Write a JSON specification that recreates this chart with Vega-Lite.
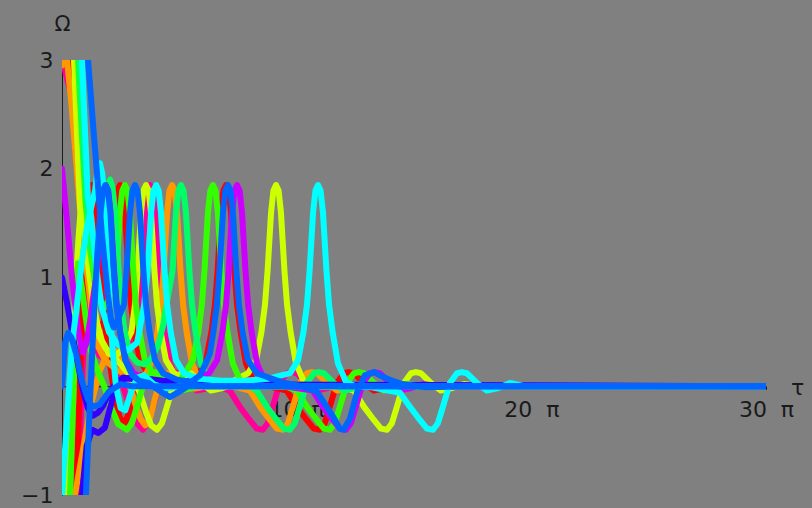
{
  "$schema": "https://vega.github.io/schema/vega-lite/v6.json",
  "width": 704,
  "height": 435,
  "autosize": {"type": "none"},
  "padding": {"left": 62, "top": 60, "right": 46, "bottom": 13},
  "background": "#808080",
  "config": {"view": {"stroke": null}, "font": "DejaVu Sans"},
  "data": {"values": [
    {"id": "a_pinkA", "hue": "pink", "x": [0,0.43,0.7,0.95,1.15,1.35,1.6,1.9,2.17,2.35,2.6,2.9,3.15,3.45,3.65,3.87,4.17,4.47,4.68,4.9,5.3,5.75,6.2,6.7,7.3,30], "y": [3.02,2.64,2.0,1.2,0.65,0.4,0.28,0.25,0.26,0.18,0.0,-0.2,-0.33,-0.4,-0.34,-0.19,0.03,0.12,0.13,0.12,0.03,-0.04,-0.02,0.02,0.0,0.0]},
    {"id": "b_pinkB", "hue": "pink", "x": [0,0.68,0.85,1.0,1.15,1.3,1.4,1.51,1.61,1.76,1.87,2.02,2.25,2.5,2.8,3.13,3.28,3.39,3.54,3.64,3.75,3.86,3.96,4.11,4.22,4.37,4.6,4.94,5.4,6.5,7.15,7.58,8.0,8.3,8.56,8.77,8.98,9.28,9.58,9.79,10.0,10.43,10.86,11.28,11.84,12.5,30], "y": [-4.0,-1.0,0.0,0.8,1.4,1.75,1.85,1.8,1.6,1.06,0.75,0.5,0.3,0.25,0.3,0.5,0.75,1.06,1.6,1.8,1.85,1.8,1.6,1.06,0.75,0.5,0.21,0.04,0.01,0.01,-0.04,-0.19,-0.31,-0.39,-0.4,-0.34,-0.19,0.03,0.12,0.13,0.12,0.03,-0.04,-0.02,0.02,0.0,0.0]},
    {"id": "c_redA", "hue": "red", "x": [0,0.34,0.6,0.9,1.2,1.49,1.75,2.0,2.11,2.26,2.36,2.47,2.58,2.68,2.83,2.94,3.09,3.32,3.66,4.2,5.0,5.8,6.14,6.37,6.52,6.63,6.78,6.88,6.99,7.1,7.2,7.35,7.46,7.61,7.84,8.18,8.6,9.58,10.01,10.43,10.73,10.99,11.2,11.41,11.71,12.01,12.22,12.43,12.86,13.29,13.71,14.27,15,30], "y": [4.2,3.0,2.1,1.3,0.8,0.51,0.58,0.75,1.06,1.6,1.8,1.85,1.8,1.6,1.06,0.75,0.5,0.24,0.12,0.06,0.04,0.1,0.24,0.5,0.75,1.06,1.6,1.8,1.85,1.8,1.6,1.06,0.75,0.5,0.21,0.04,0.01,-0.04,-0.19,-0.31,-0.39,-0.4,-0.34,-0.19,0.03,0.12,0.13,0.12,0.03,-0.04,-0.02,0.02,0.0,0.0]},
    {"id": "d_redB", "hue": "red", "x": [0,0.6,0.76,0.92,1.04,1.14,1.25,1.36,1.46,1.61,1.72,1.87,2.05,2.25,2.45,2.65,2.85,3.05,3.35,3.6,3.9,4.3,4.8,30], "y": [-4.0,-1.0,0.0,0.9,1.45,1.8,1.85,1.8,1.6,1.06,0.75,0.5,0.2,-0.1,-0.28,-0.35,-0.25,-0.05,0.1,0.12,0.05,-0.03,0.0,0.0]},
    {"id": "e_orangeA", "hue": "orange", "x": [0,0.2,0.4,0.7,0.9,1.07,1.2,1.41,1.83,2.34,2.8,3.32,3.6,3.84,4.07,4.22,4.33,4.48,4.58,4.69,4.8,4.9,5.05,5.16,5.31,5.54,5.88,6.3,7.3,8.01,8.44,8.86,9.16,9.42,9.63,9.84,10.14,10.44,10.65,10.86,11.29,11.72,12.14,12.7,13.4,30], "y": [2.95,3.02,2.6,1.8,1.3,1.04,0.8,0.42,0.24,0.15,0.1,0.08,0.12,0.24,0.5,0.75,1.06,1.6,1.8,1.85,1.8,1.6,1.06,0.75,0.5,0.21,0.04,0.01,0.0,-0.04,-0.19,-0.31,-0.39,-0.4,-0.34,-0.19,0.03,0.12,0.13,0.12,0.03,-0.04,-0.02,0.02,0.0,0.0]},
    {"id": "f_orangeB", "hue": "orange", "x": [0,0.55,1.0,1.28,1.62,1.95,2.25,2.55,2.85,3.1,3.35,3.55,3.75,3.95,4.2,4.5,4.8,5.2,5.7,6.2,30], "y": [-1.65,-1.0,-0.45,-0.13,0.15,0.3,0.33,0.25,0.05,-0.15,-0.3,-0.36,-0.3,-0.12,0.06,0.12,0.08,-0.02,-0.02,0.0,0.0]},
    {"id": "g_yellowA", "hue": "yellow", "x": [0,0.51,0.77,0.95,1.15,1.4,1.7,2.0,2.3,2.6,2.96,3.11,3.22,3.37,3.47,3.58,3.69,3.79,3.94,4.05,4.2,4.43,4.77,5.3,6.3,7.3,7.93,8.27,8.5,8.65,8.76,8.91,9.01,9.12,9.23,9.33,9.48,9.59,9.74,9.97,10.31,10.8,12.0,12.44,12.87,13.29,13.59,13.85,14.06,14.27,14.57,14.87,15.08,15.29,15.72,16.15,16.57,17.13,17.8,30], "y": [4.8,3.0,1.64,1.45,1.05,0.65,0.42,0.3,0.28,0.35,0.5,0.75,1.06,1.6,1.8,1.85,1.8,1.6,1.06,0.75,0.5,0.24,0.12,0.06,0.04,0.05,0.12,0.24,0.5,0.75,1.06,1.6,1.8,1.85,1.8,1.6,1.06,0.75,0.5,0.21,0.04,0.0,-0.01,-0.04,-0.19,-0.31,-0.39,-0.4,-0.34,-0.19,0.03,0.12,0.13,0.12,0.03,-0.04,-0.02,0.02,0.0,0.0]},
    {"id": "h_yellowB", "hue": "yellow", "x": [0,0.21,0.4,0.55,0.7,0.82,0.92,1.02,1.12,1.25,1.4,1.6,1.85,2.1,2.5,2.9,3.3,3.6,3.8,4.05,4.26,4.47,4.77,5.07,5.28,5.49,5.92,6.35,6.8,7.3,8.0,30], "y": [-1.8,-1.0,0.1,0.8,1.35,1.7,1.82,1.75,1.5,1.05,0.7,0.45,0.35,0.3,0.2,0.1,-0.05,-0.25,-0.36,-0.4,-0.34,-0.19,0.03,0.12,0.13,0.12,0.03,-0.04,-0.02,0.02,0.0,0.0]},
    {"id": "i_greenA", "hue": "green", "x": [0,0.68,0.85,1.0,1.2,1.4,1.6,1.8,2.0,2.17,2.32,2.47,2.57,2.68,2.79,2.89,3.04,3.15,3.3,3.53,3.87,4.4,5.0,5.24,5.58,5.81,5.96,6.07,6.22,6.32,6.43,6.54,6.64,6.79,6.9,7.05,7.28,7.62,8.1,9.5,10.01,10.44,10.86,11.16,11.42,11.63,11.84,12.14,12.44,12.65,12.86,13.29,13.72,14.14,14.7,15.4,30], "y": [5.5,3.0,2.3,1.7,1.25,0.95,0.78,0.72,0.8,0.95,1.06,1.6,1.8,1.85,1.8,1.6,1.06,0.75,0.5,0.24,0.12,0.06,0.05,0.12,0.24,0.5,0.75,1.06,1.6,1.8,1.85,1.8,1.6,1.06,0.75,0.5,0.21,0.04,0.01,0.0,-0.04,-0.19,-0.31,-0.39,-0.4,-0.34,-0.19,0.03,0.12,0.13,0.12,0.03,-0.04,-0.02,0.02,0.0,0.0]},
    {"id": "j_greenB", "hue": "green", "x": [0,0.34,0.5,0.6,0.68,0.85,1.0,1.2,1.5,1.8,2.1,2.4,2.77,2.98,3.19,3.49,3.79,4.0,4.21,4.64,5.07,5.5,6.1,6.8,30], "y": [-2.5,-1.0,0.0,0.75,1.13,0.9,0.65,0.35,0.15,0.0,-0.2,-0.35,-0.4,-0.34,-0.19,0.03,0.12,0.13,0.12,0.03,-0.04,-0.02,0.02,0.0,0.0]},
    {"id": "k_springA", "hue": "spring", "x": [0,0.72,0.9,1.05,1.2,1.35,1.5,1.7,1.85,1.95,2.05,2.16,2.26,2.41,2.52,2.67,2.9,3.2,3.5,3.8,4.1,4.3,4.45,4.71,4.86,4.96,5.07,5.18,5.28,5.43,5.54,5.69,5.92,6.26,6.8,8.0,8.3,8.73,9.15,9.45,9.71,9.92,10.13,10.43,10.73,10.94,11.15,11.58,12.01,12.43,12.99,13.6,30], "y": [5.5,3.0,2.2,1.7,1.35,1.2,1.25,1.45,1.7,1.85,1.9,1.82,1.6,1.06,0.75,0.5,0.3,0.22,0.2,0.25,0.38,0.55,0.75,1.06,1.6,1.8,1.85,1.8,1.6,1.06,0.75,0.5,0.21,0.04,0.01,0.0,-0.04,-0.19,-0.31,-0.39,-0.4,-0.34,-0.19,0.03,0.12,0.13,0.12,0.03,-0.04,-0.02,0.02,0.0,0.0]},
    {"id": "l_purpleA", "hue": "purple", "x": [0,0.2,0.45,0.7,0.89,1.05,1.2,1.35,1.5,1.65,1.75,1.86,1.97,2.07,2.22,2.33,2.48,2.71,3.05,3.6,4.5,5.5,6.27,6.61,6.84,6.99,7.1,7.25,7.35,7.46,7.57,7.67,7.82,7.93,8.08,8.31,8.65,9.2,10.69,11.12,11.54,11.84,12.1,12.31,12.52,12.82,13.12,13.33,13.54,13.97,14.4,14.82,15.38,16.0,30], "y": [2.0,1.55,0.95,0.5,0.31,0.4,0.6,0.85,1.06,1.6,1.8,1.85,1.8,1.6,1.06,0.75,0.5,0.24,0.12,0.06,0.04,0.05,0.12,0.24,0.5,0.75,1.06,1.6,1.8,1.85,1.8,1.6,1.06,0.75,0.5,0.21,0.04,0.01,-0.04,-0.19,-0.31,-0.39,-0.4,-0.34,-0.19,0.03,0.12,0.13,0.12,0.03,-0.04,-0.02,0.02,0.0,0.0]},
    {"id": "m_darkblueB", "hue": "darkblue", "x": [0,0.85,1.05,1.28,1.55,1.83,2.05,2.3,2.6,3.2,4.0,30], "y": [-5.0,-1.0,-0.55,-0.4,-0.43,-0.38,-0.2,0.0,0.08,0.06,0.02,0.0]},
    {"id": "n_darkblueA", "hue": "darkblue", "x": [0,0.2,0.47,0.7,0.9,1.1,1.32,1.55,1.75,1.92,2.2,2.47,3.03,3.6,4.3,5.5,7.0,30], "y": [1.0,0.78,0.45,0.18,-0.04,-0.2,-0.27,-0.24,-0.18,-0.1,0.0,0.06,0.08,0.07,0.05,0.03,0.01,0.0]},
    {"id": "o_cyanB", "hue": "cyan", "x": [0,0.2,0.43,0.64,0.85,1.05,1.25,1.41,1.52,1.62,1.72,1.83,1.95,2.05,2.15,2.3,2.5,2.7,2.95,3.2,3.5,3.9,4.4,5.0,30], "y": [-1.02,-0.35,0.39,0.75,1.15,1.45,1.65,1.8,2.0,2.05,1.95,1.59,1.1,0.7,0.35,0.0,-0.2,-0.22,-0.05,0.08,0.1,0.02,-0.02,0.0,0.0]},
    {"id": "p_cyanA", "hue": "cyan", "x": [0,0.85,1.1,1.25,1.45,1.7,2.0,2.4,2.8,3.2,3.5,3.65,3.8,3.9,4.01,4.12,4.22,4.37,4.48,4.63,4.86,5.2,5.8,6.8,7.8,8.8,9.72,10.06,10.29,10.44,10.55,10.7,10.8,10.91,11.02,11.12,11.27,11.38,11.53,11.76,12.1,12.5,13.2,14.4,14.83,15.25,15.55,15.81,16.02,16.23,16.53,16.83,17.04,17.25,17.68,18.11,18.53,19.09,19.7,30], "y": [5.5,3.0,1.75,1.55,1.1,0.72,0.5,0.38,0.33,0.4,0.75,1.06,1.6,1.8,1.85,1.8,1.6,1.06,0.75,0.5,0.24,0.12,0.07,0.05,0.05,0.07,0.12,0.24,0.5,0.75,1.06,1.6,1.8,1.85,1.8,1.6,1.06,0.75,0.5,0.21,0.04,0.0,-0.01,-0.06,-0.19,-0.31,-0.39,-0.4,-0.34,-0.19,0.03,0.12,0.13,0.12,0.03,-0.04,-0.02,0.03,0.0,0.0]},
    {"id": "q_azureC", "hue": "azure", "x": [0,0.13,0.26,0.4,0.6,0.85,1.1,1.3,1.6,2.0,2.5,3.0,30], "y": [0.0,0.4,0.49,0.45,0.3,0.05,-0.12,-0.19,-0.17,-0.05,0.02,0.0,0.0]},
    {"id": "r_azureB", "hue": "azure", "x": [0,1.02,1.2,1.35,1.5,1.62,1.75,1.85,1.96,2.06,2.21,2.32,2.47,2.7,3.0,3.3,3.7,4.2,4.6,5.0,5.5,6.0,30], "y": [-6.0,-1.0,-0.1,0.6,1.2,1.55,1.8,1.85,1.8,1.6,1.06,0.75,0.5,0.24,0.1,0.05,0.03,-0.05,-0.1,-0.05,0.02,0.0,0.0]},
    {"id": "s_azureA", "hue": "azure", "x": [0,1.11,1.4,1.7,1.95,2.1,2.2,2.35,2.64,2.75,2.9,3.0,3.11,3.22,3.32,3.47,3.58,3.73,3.96,4.3,4.9,5.5,5.88,6.1,6.3,6.45,6.6,6.71,6.86,6.96,7.07,7.18,7.28,7.43,7.54,7.69,7.92,8.3,8.8,9.5,10.2,10.86,11.55,11.84,12.0,12.27,12.57,12.9,13.3,13.55,13.97,14.5,15.5,17.0,30], "y": [6.0,3.0,2.2,1.4,0.85,0.6,0.54,0.6,0.75,1.06,1.6,1.8,1.85,1.8,1.6,1.06,0.75,0.5,0.24,0.12,0.06,0.04,0.1,0.2,0.3,0.5,0.75,1.06,1.6,1.8,1.85,1.8,1.6,1.06,0.75,0.5,0.24,0.12,0.08,0.03,0.0,-0.05,-0.28,-0.39,-0.4,-0.3,-0.06,0.1,0.13,0.1,0.06,0.02,-0.01,0.0,0.0]}
  ]},
  "transform": [{"flatten": ["x", "y"]}],
  "mark": {"type": "line", "clip": true, "strokeWidth": 6, "strokeJoin": "round", "strokeCap": "round"},
  "encoding": {
    "x": {
      "field": "x", "type": "quantitative",
      "scale": {"domain": [0, 30], "nice": false, "zero": false},
      "axis": {
        "values": [10, 20, 30],
        "labelExpr": "datum.value + '\u00a0\u00a0π'",
        "offset": -108.75,
        "grid": false,
        "domainColor": "#1a1a1a",
        "tickColor": "#1a1a1a",
        "tickSize": 3,
        "labelColor": "#1a1a1a",
        "labelFontSize": 22,
        "labelPadding": 10,
        "labelFlush": false,
        "labelOverlap": false,
        "title": "τ",
        "titleFontSize": 22,
        "titleFontWeight": "normal",
        "titleColor": "#1a1a1a",
        "titleX": 735,
        "titleY": 1,
        "titleAlign": "center",
        "titleBaseline": "middle"
      }
    },
    "y": {
      "field": "y", "type": "quantitative",
      "scale": {"domain": [-1, 3], "nice": false, "zero": false},
      "axis": {
        "values": [-1, 1, 2, 3],
        "grid": false,
        "ticks": false,
        "domainColor": "#1a1a1a",
        "labelColor": "#1a1a1a",
        "labelFontSize": 22,
        "labelPadding": 9,
        "labelFlush": false,
        "labelOverlap": false,
        "title": "Ω",
        "titleAngle": 0,
        "titleFontSize": 21,
        "titleFontWeight": "normal",
        "titleColor": "#1a1a1a",
        "titleX": 0,
        "titleY": -36,
        "titleAlign": "center",
        "titleBaseline": "middle"
      }
    },
    "color": {
      "field": "hue", "type": "nominal", "legend": null,
      "scale": {
        "domain": ["pink", "red", "orange", "yellow", "green", "spring", "purple", "darkblue", "cyan", "azure"],
        "range": ["#ff0099", "#ff0000", "#ff9900", "#ccff00", "#33ff00", "#00ff66", "#cc00ff", "#3300ff", "#00ffff", "#0066ff"]
      }
    },
    "detail": {"field": "id", "type": "nominal"}
  }
}
